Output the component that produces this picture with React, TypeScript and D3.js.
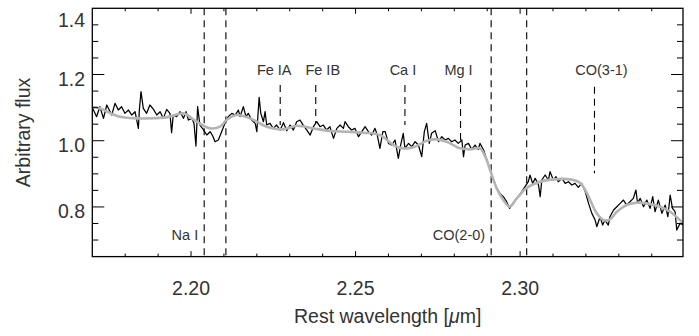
import React from 'react';
import * as d3 from 'd3';

const W = 699;
const H = 336;

// observed spectrum: [rest wavelength (um), flux]
const observed: [number, number][] = [
  [2.1699, 1.1028], [2.1713, 1.0726], [2.1723, 1.1028], [2.1734, 1.0676], [2.1744, 1.1079],
  [2.1759, 1.0776], [2.1769, 1.1129], [2.1779, 1.0927], [2.1789, 1.1028], [2.1799, 1.0827],
  [2.181, 1.0927], [2.182, 1.0776], [2.183, 1.0877], [2.184, 1.0374], [2.1843, 1.0927],
  [2.1848, 1.1481], [2.1855, 1.0978], [2.1865, 1.0827], [2.1875, 1.1079], [2.1886, 1.0948],
  [2.1896, 1.0776], [2.1906, 1.0877], [2.1916, 1.0676], [2.1926, 1.0948], [2.1936, 1.0827],
  [2.1941, 1.0243], [2.1946, 1.0776], [2.1956, 1.0726], [2.1967, 1.0877], [2.1977, 1.0676],
  [2.1985, 1.0877], [2.1992, 1.0625], [2.2002, 1.0676], [2.2009, 1.0525], [2.2015, 0.984],
  [2.202, 1.1028], [2.2027, 1.0474], [2.2037, 1.0343], [2.2048, 1.0172], [2.2058, 1.0273],
  [2.2066, 1.0142], [2.2073, 0.9971], [2.2083, 1.0021], [2.2093, 1.0273], [2.2103, 1.0525],
  [2.2113, 1.0726], [2.2124, 1.0827], [2.2134, 1.0776], [2.2144, 1.0927], [2.2149, 1.0726],
  [2.2159, 1.1028], [2.2167, 1.0726], [2.2174, 1.0827], [2.2184, 1.0625], [2.2195, 1.0525],
  [2.22, 1.0273], [2.2207, 1.131], [2.2212, 1.0827], [2.222, 1.0575], [2.2225, 1.0877],
  [2.223, 1.0474], [2.224, 1.0525], [2.225, 1.0374], [2.226, 1.0474], [2.2271, 1.0323],
  [2.2281, 1.0545], [2.2291, 1.0303], [2.2301, 1.0474], [2.2311, 1.0323], [2.2321, 1.0575],
  [2.2331, 1.0625], [2.2341, 1.0474], [2.2352, 1.0323], [2.2362, 1.0172], [2.2372, 1.0424],
  [2.2382, 1.0575], [2.2392, 1.0424], [2.2402, 1.0474], [2.2412, 1.0323], [2.2422, 1.0424],
  [2.2433, 1.0071], [2.2443, 1.0374], [2.2453, 1.0474], [2.2463, 1.0374], [2.2468, 1.0575],
  [2.2478, 1.0424], [2.2488, 1.0323], [2.2498, 1.0374], [2.2509, 1.0122], [2.2519, 1.0273],
  [2.2529, 1.0424], [2.2539, 1.0273], [2.2549, 1.0172], [2.2559, 1.0374], [2.2566, 1.0172],
  [2.2574, 0.9769], [2.2583, 1.0273], [2.259, 1.0273], [2.26, 0.992], [2.261, 0.987],
  [2.262, 1.0021], [2.263, 0.9467], [2.2637, 0.987], [2.2645, 1.0223], [2.265, 0.9769],
  [2.2661, 0.992], [2.2671, 0.982], [2.2681, 0.9971], [2.2691, 0.987], [2.2701, 0.9518],
  [2.2709, 1.0273], [2.2716, 1.0525], [2.2724, 0.992], [2.2731, 1.0223], [2.2742, 1.0303],
  [2.2752, 0.9971], [2.2762, 1.0122], [2.2772, 1.0021], [2.2782, 1.0071], [2.2792, 0.9971],
  [2.2802, 1.0021], [2.2812, 0.992], [2.2823, 1.0021], [2.2828, 0.9518], [2.2833, 0.987],
  [2.2843, 0.992], [2.2853, 0.9739], [2.2863, 0.987], [2.2873, 0.9739], [2.2878, 0.992],
  [2.2889, 0.9719], [2.2899, 0.9417], [2.2909, 0.9115], [2.2919, 0.8813], [2.2929, 0.8561],
  [2.2939, 0.841], [2.2949, 0.8309], [2.2959, 0.8158], [2.2968, 0.7957], [2.2975, 0.8057],
  [2.2985, 0.8208], [2.2995, 0.8309], [2.3005, 0.846], [2.3015, 0.8611], [2.3025, 0.8762],
  [2.303, 0.8964], [2.3038, 0.8712], [2.3046, 0.8863], [2.3056, 0.8662], [2.3061, 0.8309],
  [2.3066, 0.8813], [2.3076, 0.8964], [2.3086, 0.8813], [2.3091, 0.9064], [2.3101, 0.8813],
  [2.3109, 0.8913], [2.3116, 0.8762], [2.3127, 0.8863], [2.3137, 0.8712], [2.3147, 0.8762],
  [2.3157, 0.8662], [2.3167, 0.8712], [2.3177, 0.8591], [2.3187, 0.8712], [2.3198, 0.846],
  [2.3208, 0.8108], [2.3218, 0.7806], [2.3228, 0.7604], [2.3233, 0.7403], [2.3243, 0.7705],
  [2.3251, 0.7453], [2.3258, 0.7604], [2.3268, 0.7453], [2.3273, 0.7705], [2.3284, 0.7906],
  [2.3294, 0.8007], [2.3304, 0.8108], [2.3314, 0.8208], [2.3324, 0.8057], [2.3334, 0.8158],
  [2.3344, 0.8259], [2.3352, 0.8511], [2.3357, 0.8108], [2.3365, 0.8259], [2.3375, 0.8007],
  [2.3385, 0.8208], [2.3395, 0.7957], [2.3403, 0.8309], [2.341, 0.7856], [2.342, 0.8208],
  [2.3431, 0.7806], [2.3441, 0.8057], [2.3449, 0.7705], [2.3456, 0.8359], [2.3463, 0.7957],
  [2.3471, 0.7856], [2.3476, 0.7302], [2.3486, 0.7503], [2.3496, 0.7453],
];

// smooth model fit
const model: [number, number][] = [
  [2.1699, 1.1027], [2.1723, 1.0978], [2.1784, 1.0726], [2.1926, 1.0706], [2.1977, 1.0827],
  [2.2017, 1.0575], [2.2058, 1.0374], [2.2088, 1.0424], [2.2108, 1.0625], [2.2139, 1.0776],
  [2.2179, 1.0676], [2.223, 1.0424], [2.2281, 1.0343], [2.2321, 1.0454], [2.2372, 1.0374],
  [2.2422, 1.0293], [2.2473, 1.0273], [2.2524, 1.0243], [2.2574, 1.0172], [2.2615, 0.987],
  [2.2645, 0.9769], [2.2676, 0.98], [2.2716, 1.0001], [2.2747, 1.0041], [2.2777, 0.9971],
  [2.2818, 0.9769], [2.2848, 0.9739], [2.2878, 0.9769], [2.2894, 0.9518], [2.2909, 0.9115],
  [2.2929, 0.8561], [2.2949, 0.8208], [2.2968, 0.8007], [2.299, 0.8259], [2.3018, 0.8561],
  [2.3051, 0.8732], [2.3101, 0.8833], [2.3152, 0.8833], [2.3182, 0.8732], [2.3198, 0.8511],
  [2.3213, 0.8208], [2.3233, 0.7806], [2.3253, 0.7604], [2.3273, 0.7624], [2.3294, 0.7856],
  [2.3324, 0.8057], [2.3355, 0.8128], [2.3385, 0.8108], [2.3425, 0.8007], [2.3456, 0.7856],
  [2.3496, 0.7503],
];

const xTickValues = [2.2, 2.25, 2.3];
const xTickLabels = ['2.20', '2.25', '2.30'];
const yTickValues = [0.8, 1.0, 1.2, 1.4];
const yTickLabels = ['0.8', '1.0', '1.2', '1.4'];

// absorption features marked from the top
const featureNames = ['Fe IA', 'Fe IB', 'Ca I', 'Mg I', 'CO(3-1)'];
const featureWaves = [2.2271, 2.2379, 2.265, 2.2819, 2.3226];
const featureTop = [1.168, 1.168, 1.168, 1.168, 1.163];
const featureLow = [1.0475, 1.0535, 1.0475, 0.993, 0.9015];

// bands marked with a pair of full-height lines
const bandNames = ['Na I', 'CO(2-0)'];
const bandEdges: [number, number][] = [[2.204, 2.2106], [2.2912, 2.302]];

// label nudges (px) so neighbouring names don't collide
const labelShift = [-6, 7, -2, -2, 7];

const FONT = '"Liberation Sans", Arial, Helvetica, sans-serif';
const TXT = '#333';

export default function App() {
  const x = d3.scaleLinear().domain([2.17, 2.3495]).range([92.3, 683]);
  const y = d3.scaleLinear().domain([0.65, 1.4]).range([256.6, 8.3]);
  const [x0, x1] = x.range();
  const [y0, y1] = y.range();

  const line = d3.line<[number, number]>().x(d => x(d[0])).y(d => y(d[1]));
  const smooth = d3
    .line<[number, number]>()
    .x(d => x(d[0]))
    .y(d => y(d[1]))
    .curve(d3.curveCatmullRom.alpha(0.5));

  const xMinor = d3.range(218, 235).map(v => v / 100);
  const yMinor = d3.range(14, 28).map(v => v / 20);
  const isMajor = (v: number, arr: number[]) => arr.some(a => Math.abs(a - v) < 1e-6);

  return (
    <svg width={W} height={H} style={{ position: 'absolute', left: 0, top: 0 }} fontFamily={FONT}>
      <rect width={W} height={H} fill="#fff" />
      <defs>
        <clipPath id="plot">
          <rect x={x0} y={y1} width={x1 - x0} height={y0 - y1} />
        </clipPath>
      </defs>

      {/* band markers */}
      {bandEdges.map((pair, i) => (
        <g key={bandNames[i]}>
          {pair.map(w => (
            <line key={w} x1={x(w)} x2={x(w)} y1={y1} y2={y0} stroke="#000" strokeWidth={1.1} strokeDasharray="7,5" />
          ))}
          <text x={x(pair[0]) - 6} y={240} textAnchor="end" fontSize={14.5} fill={TXT}>
            {bandNames[i]}
          </text>
        </g>
      ))}

      {/* feature markers */}
      {featureWaves.map((w, i) => (
        <g key={featureNames[i]}>
          <line x1={x(w)} x2={x(w)} y1={y(featureTop[i])} y2={y(featureLow[i])} stroke="#000" strokeWidth={1.1} strokeDasharray="7,5" />
          <text x={x(w) + labelShift[i]} y={75} textAnchor="middle" fontSize={14.5} fill={TXT}>
            {featureNames[i]}
          </text>
        </g>
      ))}

      <g clipPath="url(#plot)">
        <path d={line(observed) || ''} fill="none" stroke="#000" strokeWidth={1.25} strokeLinejoin="round" />
        <path d={smooth(model) || ''} fill="none" stroke="#b4b4b4" strokeWidth={2.6} strokeLinecap="round" />
      </g>

      {/* frame */}
      <rect x={x0} y={y1} width={x1 - x0} height={y0 - y1} fill="none" stroke="#000" strokeWidth={1.3} />

      {/* x ticks, bottom and top */}
      {xMinor.map(v => {
        const len = isMajor(v, xTickValues) ? 5.5 : 3;
        return (
          <g key={'x' + v}>
            <line x1={x(v)} x2={x(v)} y1={y0} y2={y0 - len} stroke="#000" strokeWidth={1} />
            <line x1={x(v)} x2={x(v)} y1={y1} y2={y1 + len} stroke="#000" strokeWidth={1} />
          </g>
        );
      })}
      {xTickValues.map((v, i) => (
        <text key={'xl' + v} x={x(v)} y={295} textAnchor="middle" fontSize={19.5} fill={TXT}>
          {xTickLabels[i]}
        </text>
      ))}

      {/* y ticks, left and right */}
      {yMinor.map(v => {
        const len = isMajor(v, yTickValues) ? 12 : 6;
        return (
          <g key={'y' + v}>
            <line x1={x0} x2={x0 + len} y1={y(v)} y2={y(v)} stroke="#000" strokeWidth={1} />
            <line x1={x1} x2={x1 - len} y1={y(v)} y2={y(v)} stroke="#000" strokeWidth={1} />
          </g>
        );
      })}
      {yTickValues.map((v, i) => (
        <text key={'yl' + v} x={85} y={Math.max(y(v) + 11, 26.7)} textAnchor="end" fontSize={19.5} fill={TXT}>
          {yTickLabels[i]}
        </text>
      ))}

      {/* axis titles */}
      <text x={(x0 + x1) / 2} y={323} textAnchor="middle" fontSize={19.5} fill={TXT}>
        Rest wavelength [<tspan fontStyle="italic">μ</tspan>m]
      </text>
      <text
        transform={`translate(30, ${(y0 + y1) / 2}) rotate(-90)`}
        textAnchor="middle"
        fontSize={19.5}
        fill={TXT}
      >
        Arbitrary flux
      </text>
    </svg>
  );
}
